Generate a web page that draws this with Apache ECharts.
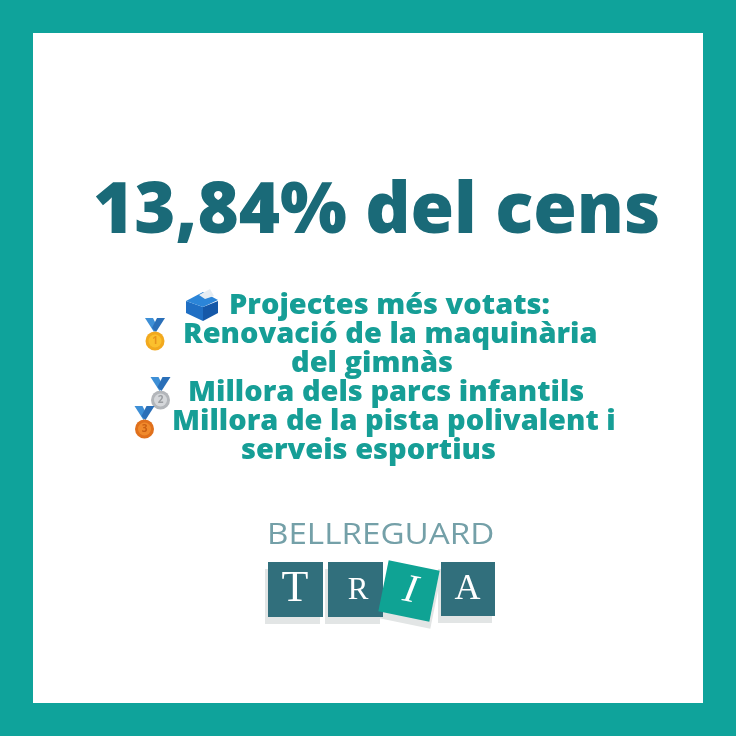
<!DOCTYPE html>
<html><head><meta charset="utf-8">
<style>html,body{margin:0;padding:0;background:#fff}#c{width:736px;height:736px}</style>
<script src="https://cdn.jsdelivr.net/npm/echarts@6/dist/echarts.min.js"></script>
</head><body><div id="c"></div>
<script>
const headline = "13,84% del cens";
const bodyLines = ["Projectes més votats:", "Renovació de la maquinària", "del gimnàs", "Millora dels parcs infantils", "Millora de la pista polivalent i", "serveis esportius"];
const bodyX = [229, 183, 291, 188, 172, 241];
const bodyY = [291, 320, 349, 378, 407, 436];
const logoWord = "BELLREGUARD";
const logoLetters = ["T", "R", "I", "A"];
const medals = [
  {cx:155, cy:341, num:"1", ring:"#f2a91e", face:"#fbc02d", ink:"#e8941a"},
  {cx:160.5, cy:400, num:"2", ring:"#b3b6ba", face:"#d5d7da", ink:"#9a9da1"},
  {cx:144.5, cy:429, num:"3", ring:"#e0701c", face:"#f08a2c", ink:"#c95f14"}
];
const TEAL="#0fa39b", HEAD="#1a6a78", BODY="#169e96", SQ="#316f7c", SHADOW="#e2e5e5";
const g = [];
g.push({type:'rect',shape:{x:0,y:0,width:736,height:736},style:{fill:TEAL},silent:true});
g.push({type:'rect',shape:{x:33,y:33,width:670,height:670},style:{fill:'#fff'},silent:true});
g.push({type:'text',style:{text:headline,x:93,y:177,fill:HEAD,font:'800 70.5px "Open Sans"',verticalAlign:'top',align:'left'}});
bodyLines.forEach((t,i)=>g.push({type:'text',style:{text:t,x:bodyX[i],y:bodyY[i],fill:BODY,font:'800 29px "Open Sans"',verticalAlign:'top',align:'left'}}));
// ballot box
g.push({type:'polygon',shape:{points:[[186,301],[203,307],[203,321],[186,313]]},style:{fill:'#1f6fc4'}});
g.push({type:'polygon',shape:{points:[[218,301],[203,307],[203,321],[218,313]]},style:{fill:'#1558a8'}});
g.push({type:'polygon',shape:{points:[[186,301],[203,292],[218,300],[203,307]]},style:{fill:'#2b85d8'}});
g.push({type:'polygon',shape:{points:[[199,295],[210,289],[214,296],[205,299]]},style:{fill:'#e6edf3'}});
// medals
medals.forEach(m=>{
  const x=m.cx,y=m.cy;
  g.push({type:'polygon',shape:{points:[[x-10,y-23],[x-2,y-23],[x+3,y-13],[x-1,y-9]]},style:{fill:'#3d8fd6'}});
  g.push({type:'polygon',shape:{points:[[x+10,y-23],[x+2,y-23],[x-3,y-13],[x+1,y-9]]},style:{fill:'#2a6fb8'}});
  g.push({type:'circle',shape:{cx:x,cy:y,r:9.5},style:{fill:m.ring}});
  g.push({type:'circle',shape:{cx:x,cy:y,r:6.5},style:{fill:m.face}});
  g.push({type:'text',style:{text:m.num,x:x,y:y,fill:m.ink,font:'700 10px "Open Sans"',align:'center',verticalAlign:'middle'}});
});
// logo
g.push({type:'text',x:267,y:536,scaleX:1.164,style:{text:logoWord,x:0,y:0,fill:'#74a0a8',font:'400 28.5px "Open Sans"',verticalAlign:'middle',align:'left'}});
const squares=[[268,562,55,55],[328,562,55,55],null,[441,562,54,54]];
squares.forEach(s=>{ if(s) g.push({type:'rect',shape:{x:s[0]-3,y:s[1]+7,width:s[2],height:s[3]},style:{fill:SHADOW}}); });
g.push({type:'rect',shape:{x:384,y:572,width:52,height:52},rotation:-0.2,originX:410,originY:598,style:{fill:SHADOW}});
squares.forEach(s=>{ if(s) g.push({type:'rect',shape:{x:s[0],y:s[1],width:s[2],height:s[3]},style:{fill:SQ}}); });
g.push({type:'rect',shape:{x:383,y:565,width:52,height:52},rotation:-0.2,originX:409,originY:591,style:{fill:'#0fa394'}});
const letterPos=[[295,589,44],[358,591,31],null,[467.5,590,36]];
logoLetters.forEach((l,i)=>{ if(letterPos[i]) g.push({type:'text',style:{text:l,x:letterPos[i][0],y:letterPos[i][1],fill:'#fff',font:'400 '+letterPos[i][2]+'px "Liberation Serif"',align:'center',verticalAlign:'middle'}}); });
g.push({type:'text',x:410,y:591,rotation:-0.2,style:{text:logoLetters[2],x:0,y:0,fill:'#fff',font:'italic 400 40px "Liberation Serif"',align:'center',verticalAlign:'middle'}});
const chart = echarts.init(document.getElementById('c'),null,{renderer:'canvas'});
chart.setOption({animation:false,graphic:{elements:g}});
</script></body></html>
